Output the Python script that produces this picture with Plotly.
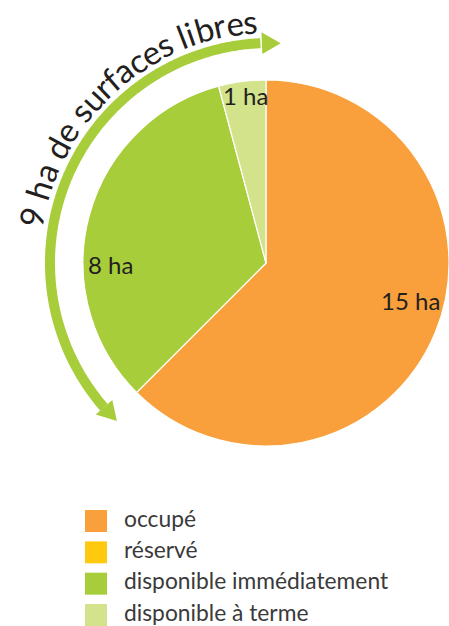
import math

import plotly.graph_objects as go

W, H = 449, 626

# -- data -------------------------------------------------------------------
categories = ["occupé", "réservé", "disponible immédiatement", "disponible à terme"]
surfaces_ha = [15, 0, 8, 1]
colors = ["#F9A03C", "#FFC910", "#A8CD3A", "#D3E38B"]
arc_title = "9 ha de surfaces libres"

TEXT = "#231F20"
GREEN = "#A8CD3A"

# pie geometry in pixels (reference centre is ~270,263 but the pie is clipped)
CX, CY, R = 266, 263, 183

fig = go.Figure()

fig.add_trace(go.Pie(
    labels=categories, values=surfaces_ha,
    marker=dict(colors=colors, line=dict(color="white", width=1.2)),
    sort=False, direction="clockwise", rotation=0,
    textinfo="none", hoverinfo="label+value", showlegend=False,
    domain=dict(x=[(CX - R) / W, min(1, (CX + R) / W)],
                y=[1 - (CY + R) / H, 1 - (CY - R) / H]),
))

# legend as a scatter on its own category axis, so the swatches can be big
fig.add_trace(go.Scatter(
    x=[0] * len(categories), y=categories, mode="markers",
    marker=dict(symbol="square", size=22, color=colors, line=dict(width=0)),
    xaxis="x3", yaxis="y3", cliponaxis=False, showlegend=False, hoverinfo="skip",
))
fig.add_trace(go.Scatter(
    x=[1] * len(categories), y=categories, mode="text", text=categories,
    textposition="middle right",
    textfont=dict(family="Lato, sans-serif", size=22.8, color="#3A3A3A"),
    xaxis="x3", yaxis="y3", cliponaxis=False, showlegend=False, hoverinfo="skip",
))


def pt(theta_deg, r, cx=270, cy=263):
    t = math.radians(theta_deg)
    return cx + r * math.cos(t), cy - r * math.sin(t)


# slice labels (polar position relative to pie centre: angle, radius)
label_pos = {0: (-14.8, 145), 2: (180.7, 160), 3: (98.5, 169)}
annotations = []
for i, (ang, rad) in label_pos.items():
    x, y = pt(ang, rad)
    annotations.append(dict(
        x=x, y=y, xref="x2", yref="y2", text=f"{surfaces_ha[i]} ha", showarrow=False,
        font=dict(family="Lato, sans-serif", size=24, color=TEXT),
        xanchor="center", yanchor="middle",
    ))

# curved title, one annotation per glyph (advance widths of Lato, in em)
widths = {"9": .58, " ": .25, "h": .56, "a": .49, "d": .56, "e": .52, "s": .40,
          "u": .56, "r": .36, "f": .32, "c": .45, "l": .24, "i": .24, "b": .56}
t_start, t_end, r_mid = 171.5, 93.0, 243
total = sum(widths[c] for c in arc_title)
acc = 0
for ch in arc_title:
    w = widths[ch]
    frac = (acc + w / 2) / total
    acc += w
    if ch == " ":
        continue
    th = t_start - frac * (t_start - t_end)
    x, y = pt(th, r_mid)
    annotations.append(dict(
        x=x, y=y, xref="x2", yref="y2", text=ch, showarrow=False,
        textangle=90 - th, xanchor="center", yanchor="middle",
        font=dict(family="Lato, sans-serif", size=33, color=TEXT),
    ))

# curved double arrow around the free part of the pie
R_ARR = 220
shaft = [pt(a / 10, R_ARR) for a in range(2210, 920, -5)]
shapes = [dict(
    type="path", xref="x2", yref="y2", layer="above",
    path="M" + " L".join(f"{x:.1f},{y:.1f}" for x, y in shaft),
    line=dict(color=GREEN, width=10), fillcolor="rgba(0,0,0,0)",
)]
for base, tip in [(92.1, 87.2), (221.0, 225.9)]:
    bx_o, by_o = pt(base, R_ARR + 11)
    bx_i, by_i = pt(base, R_ARR - 11)
    tx, ty = pt(tip, R_ARR)
    shapes.append(dict(
        type="path", xref="x2", yref="y2", layer="above",
        path=f"M{bx_o:.1f},{by_o:.1f} L{tx:.1f},{ty:.1f} L{bx_i:.1f},{by_i:.1f} Z",
        fillcolor=GREEN, line=dict(width=0),
    ))

hidden = dict(visible=False, showgrid=False, zeroline=False, fixedrange=True)
fig.update_layout(
    width=W, height=H,
    margin=dict(l=0, r=0, t=0, b=0),
    paper_bgcolor="white", plot_bgcolor="rgba(0,0,0,0)",
    xaxis2=dict(hidden, domain=[0, 1], range=[0, W], anchor="y2"),
    yaxis2=dict(hidden, domain=[0, 1], range=[H, 0], anchor="x2"),
    xaxis3=dict(hidden, domain=[96 / W, 1], range=[0, 12.6], anchor="y3"),
    yaxis3=dict(hidden, domain=[1 - 624.4 / H, 1 - 511.6 / H], range=[3.3, -0.3],
                type="category", anchor="x3"),
    annotations=annotations, shapes=shapes,
    font=dict(family="Lato, sans-serif"),
)

# the default page has an 8px body margin; drop it so the figure sits at 0,0
fig.write_html("out.html", config={"displayModeBar": False},
               post_script="document.body.style.margin='0';")
